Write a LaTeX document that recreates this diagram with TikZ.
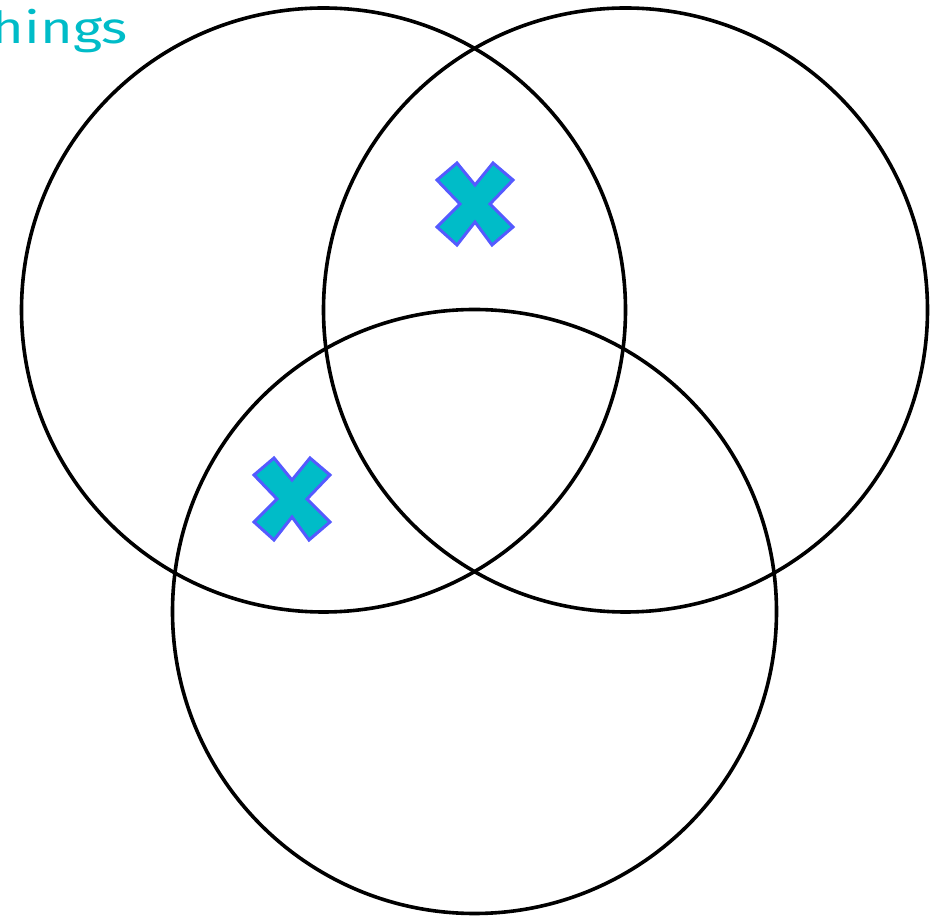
\documentclass[tikz,border=0pt]{standalone}
\usepackage{fontspec}
\setmainfont{Fira Sans}
\definecolor{tcyan}{RGB}{0,188,200}
\definecolor{tblue}{RGB}{85,90,255}
\begin{document}
\begin{tikzpicture}[x=1pt,y=1pt,
  ring/.style={draw=black,line width=3.6pt},
  xmark/.style={fill=tcyan,draw=tblue,line width=3pt,line join=miter}]
\useasboundingbox (0,0) rectangle (938,916);
\node[ring,circle,minimum size=604pt,inner sep=0pt] (L) at (323.5,606) {};
\node[ring,circle,minimum size=604pt,inner sep=0pt] (R) at (625.5,606) {};
\node[ring,circle,minimum size=604pt,inner sep=0pt] (B) at (474.5,304.5) {};
\node[anchor=base east,inner sep=0pt,text=tcyan,font=\fontsize{44}{50}\selectfont] (T) at (128,872.7) {\scalebox{1.27}[1]{things}};
\foreach \n/\cx/\cy in {x1/475/712, x2/292/417}{
  \draw[xmark] (\cx,\cy) ++(0,19) -- ++(18,22) -- ++(20,-17) -- ++(-23,-24) -- ++(23,-23)
    -- ++(-21,-18) -- ++(-17,23) -- ++(-18,-23) -- ++(-20,18) -- ++(23,23) -- ++(-23,24) -- ++(20,17) -- cycle;
}
\end{tikzpicture}
\end{document}
